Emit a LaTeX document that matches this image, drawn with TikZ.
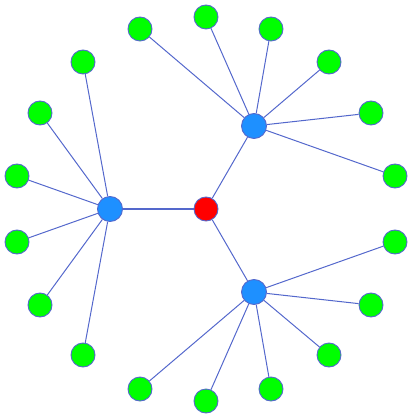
\documentclass[tikz,border=0pt]{standalone}
\begin{document}
\begin{tikzpicture}[x=1pt,y=-1pt,
  edge/.style={draw=edgeblue,line width=1pt},
  leaf/.style={circle,fill=leafgreen,draw=edgeblue,line width=0.9pt,minimum size=24pt,inner sep=0pt},
  hub/.style={circle,fill=hubblue,draw=edgeblue,line width=0.9pt,minimum size=25pt,inner sep=0pt},
  root/.style={circle,fill=red,draw=edgeblue,line width=0.9pt,minimum size=24pt,inner sep=0pt}]
\definecolor{edgeblue}{HTML}{5468CC}
\definecolor{leafgreen}{HTML}{00FF00}
\definecolor{hubblue}{HTML}{1E90FF}
\useasboundingbox (0,0) rectangle (413,419);
\node[root] (r) at (206,209) {};
\node[hub] (hl) at (110,209) {};
\node[hub] (hu) at (254,126) {};
\node[hub] (hd) at (254,292) {};
% upper cluster
\node[leaf] (u1) at (140,29) {};
\node[leaf] (u2) at (206,17) {};
\node[leaf] (u3) at (271,29) {};
\node[leaf] (u4) at (329,62) {};
\node[leaf] (u5) at (371,113) {};
\node[leaf] (u6) at (395,176) {};
% left cluster
\node[leaf] (l1) at (83,62) {};
\node[leaf] (l2) at (40,113) {};
\node[leaf] (l3) at (17,176) {};
\node[leaf] (l4) at (17,242) {};
\node[leaf] (l5) at (40,305) {};
\node[leaf] (l6) at (83,355) {};
% lower cluster
\node[leaf] (d1) at (395,242) {};
\node[leaf] (d2) at (371,305) {};
\node[leaf] (d3) at (329,355) {};
\node[leaf] (d4) at (271,389) {};
\node[leaf] (d5) at (206,401) {};
\node[leaf] (d6) at (140,389) {};
\begin{scope}[on background layer/.try]
\end{scope}
\foreach \h in {hl,hu,hd} \draw[edge] (r) -- (\h);
\foreach \n in {u1,u2,u3,u4,u5,u6} \draw[edge] (hu) -- (\n);
\foreach \n in {l1,l2,l3,l4,l5,l6} \draw[edge] (hl) -- (\n);
\foreach \n in {d1,d2,d3,d4,d5,d6} \draw[edge] (hd) -- (\n);
\end{tikzpicture}
\end{document}
